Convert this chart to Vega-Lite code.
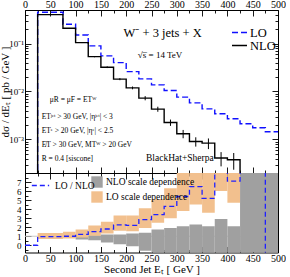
{
  "$schema": "https://vega.github.io/schema/vega-lite/v6.json",
  "background": "white",
  "padding": {"left": -2, "top": -2, "right": 0, "bottom": 0},
  "config": {
    "view": {"stroke": "black", "strokeWidth": 1},
    "axis": {"grid": false, "domain": false, "tickColor": "black", "tickWidth": 0.9, "labelFont": "Liberation Serif", "titleFont": "Liberation Serif", "labelColor": "black", "titleColor": "black", "titleFontWeight": "normal", "labelFontSize": 10, "titleFontSize": 11, "labelFlush": false, "labelOverlap": false},
    "legend": {"labelFont": "Liberation Serif", "labelColor": "black"},
    "text": {"font": "Liberation Serif", "color": "black"}
  },
  "datasets": {
    "spectra": [
      {"et": 0, "xsec": 1e-9, "series": "LO"},
      {"et": 25, "xsec": 0.448, "series": "LO"},
      {"et": 75, "xsec": 0.252, "series": "LO"},
      {"et": 100, "xsec": 0.151, "series": "LO"},
      {"et": 125, "xsec": 0.0892, "series": "LO"},
      {"et": 150, "xsec": 0.0552, "series": "LO"},
      {"et": 175, "xsec": 0.0400, "series": "LO"},
      {"et": 200, "xsec": 0.0260, "series": "LO"},
      {"et": 225, "xsec": 0.0183, "series": "LO"},
      {"et": 250, "xsec": 0.01375, "series": "LO"},
      {"et": 275, "xsec": 0.01046, "series": "LO"},
      {"et": 300, "xsec": 0.00762, "series": "LO"},
      {"et": 325, "xsec": 0.00580, "series": "LO"},
      {"et": 350, "xsec": 0.00435, "series": "LO"},
      {"et": 375, "xsec": 0.00343, "series": "LO"},
      {"et": 400, "xsec": 0.00270, "series": "LO"},
      {"et": 425, "xsec": 0.00212, "series": "LO"},
      {"et": 450, "xsec": 0.00175, "series": "LO"},
      {"et": 475, "xsec": 0.00145, "series": "LO"},
      {"et": 500, "xsec": 0.00145, "series": "LO"},
      {"et": 0, "xsec": 1e-9, "series": "NLO"},
      {"et": 25, "xsec": 0.40, "series": "NLO"},
      {"et": 75, "xsec": 0.208, "series": "NLO"},
      {"et": 100, "xsec": 0.1045, "series": "NLO"},
      {"et": 125, "xsec": 0.0533, "series": "NLO"},
      {"et": 150, "xsec": 0.0321, "series": "NLO"},
      {"et": 175, "xsec": 0.0181, "series": "NLO"},
      {"et": 200, "xsec": 0.0119, "series": "NLO"},
      {"et": 225, "xsec": 0.00728, "series": "NLO"},
      {"et": 250, "xsec": 0.0043, "series": "NLO"},
      {"et": 275, "xsec": 0.00226, "series": "NLO"},
      {"et": 300, "xsec": 0.00132, "series": "NLO"},
      {"et": 325, "xsec": 0.00091, "series": "NLO"},
      {"et": 350, "xsec": 0.00084, "series": "NLO"},
      {"et": 375, "xsec": 0.00041, "series": "NLO"},
      {"et": 400, "xsec": 0.000378, "series": "NLO"},
      {"et": 425, "xsec": 1e-9, "series": "NLO"}
    ],
    "nloerr": [
      {"et": 50, "lo": 0.396, "hi": 0.404},
      {"et": 87.5, "lo": 0.205, "hi": 0.211},
      {"et": 112.5, "lo": 0.1024, "hi": 0.1066},
      {"et": 137.5, "lo": 0.0517, "hi": 0.0549},
      {"et": 162.5, "lo": 0.0308, "hi": 0.0334},
      {"et": 187.5, "lo": 0.0172, "hi": 0.0190},
      {"et": 212.5, "lo": 0.0111, "hi": 0.0127},
      {"et": 237.5, "lo": 0.00655, "hi": 0.00801},
      {"et": 262.5, "lo": 0.00378, "hi": 0.00482},
      {"et": 287.5, "lo": 0.00192, "hi": 0.0026},
      {"et": 312.5, "lo": 0.00106, "hi": 0.00158},
      {"et": 337.5, "lo": 0.00071, "hi": 0.00111},
      {"et": 362.5, "lo": 0.00063, "hi": 0.00105},
      {"et": 387.5, "lo": 0.000275, "hi": 0.000545},
      {"et": 412.5, "lo": 0.000234, "hi": 0.000522}
    ],
    "ratio": [
      {"et": 0, "ratio": 0, "series": "LO / NLO"},
      {"et": 25, "ratio": 0.95, "series": "LO / NLO"},
      {"et": 75, "ratio": 1.0, "series": "LO / NLO"},
      {"et": 100, "ratio": 1.2, "series": "LO / NLO"},
      {"et": 125, "ratio": 1.5, "series": "LO / NLO"},
      {"et": 150, "ratio": 1.8, "series": "LO / NLO"},
      {"et": 175, "ratio": 2.25, "series": "LO / NLO"},
      {"et": 200, "ratio": 2.2, "series": "LO / NLO"},
      {"et": 225, "ratio": 2.85, "series": "LO / NLO"},
      {"et": 250, "ratio": 3.4, "series": "LO / NLO"},
      {"et": 275, "ratio": 4.3, "series": "LO / NLO"},
      {"et": 300, "ratio": 5.4, "series": "LO / NLO"},
      {"et": 325, "ratio": 6.5, "series": "LO / NLO"},
      {"et": 350, "ratio": 5.2, "series": "LO / NLO"},
      {"et": 375, "ratio": 8.5, "series": "LO / NLO"},
      {"et": 400, "ratio": 7.1, "series": "LO / NLO"},
      {"et": 425, "ratio": 50, "series": "LO / NLO"},
      {"et": 475, "ratio": -50, "series": "LO / NLO"},
      {"et": 500, "ratio": -50, "series": "LO / NLO"}
    ],
    "nloband": [
      {"start": 25, "end": 75, "lo": 0.9, "hi": 1.0, "band": "NLO scale dependence"},
      {"start": 75, "end": 100, "lo": 0.85, "hi": 1.05, "band": "NLO scale dependence"},
      {"start": 100, "end": 125, "lo": 0.65, "hi": 1.1, "band": "NLO scale dependence"},
      {"start": 125, "end": 150, "lo": 0.55, "hi": 1.1, "band": "NLO scale dependence"},
      {"start": 150, "end": 175, "lo": 0.3, "hi": 1.2, "band": "NLO scale dependence"},
      {"start": 175, "end": 200, "lo": 0.1, "hi": 1.2, "band": "NLO scale dependence"},
      {"start": 200, "end": 225, "lo": -0.1, "hi": 1.3, "band": "NLO scale dependence"},
      {"start": 225, "end": 250, "lo": -0.6, "hi": 1.4, "band": "NLO scale dependence"},
      {"start": 250, "end": 275, "lo": -1, "hi": 1.75, "band": "NLO scale dependence"},
      {"start": 275, "end": 300, "lo": -1, "hi": 1.9, "band": "NLO scale dependence"},
      {"start": 300, "end": 325, "lo": -1, "hi": 2.1, "band": "NLO scale dependence"},
      {"start": 325, "end": 350, "lo": -1, "hi": 2.3, "band": "NLO scale dependence"},
      {"start": 350, "end": 375, "lo": -1, "hi": 2.1, "band": "NLO scale dependence"},
      {"start": 375, "end": 400, "lo": -1, "hi": 2.9, "band": "NLO scale dependence"},
      {"start": 400, "end": 425, "lo": -1, "hi": 2.1, "band": "NLO scale dependence"},
      {"start": 425, "end": 500, "lo": -1, "hi": 9, "band": "NLO scale dependence"}
    ],
    "loband": [
      {"start": 25, "end": 75, "lo": 0.7, "hi": 1.35, "band": "LO scale dependence"},
      {"start": 75, "end": 100, "lo": 0.75, "hi": 1.5, "band": "LO scale dependence"},
      {"start": 100, "end": 125, "lo": 0.85, "hi": 1.75, "band": "LO scale dependence"},
      {"start": 125, "end": 150, "lo": 1.05, "hi": 2.2, "band": "LO scale dependence"},
      {"start": 150, "end": 175, "lo": 1.3, "hi": 2.6, "band": "LO scale dependence"},
      {"start": 175, "end": 200, "lo": 1.6, "hi": 3.3, "band": "LO scale dependence"},
      {"start": 200, "end": 225, "lo": 1.55, "hi": 3.3, "band": "LO scale dependence"},
      {"start": 225, "end": 250, "lo": 1.9, "hi": 4.1, "band": "LO scale dependence"},
      {"start": 250, "end": 275, "lo": 2.5, "hi": 5.1, "band": "LO scale dependence"},
      {"start": 275, "end": 300, "lo": 3.0, "hi": 6.3, "band": "LO scale dependence"},
      {"start": 300, "end": 325, "lo": 3.8, "hi": 8.2, "band": "LO scale dependence"},
      {"start": 325, "end": 350, "lo": 4.5, "hi": 9.5, "band": "LO scale dependence"},
      {"start": 350, "end": 375, "lo": 3.6, "hi": 8.2, "band": "LO scale dependence"},
      {"start": 375, "end": 400, "lo": 6.0, "hi": 12, "band": "LO scale dependence"},
      {"start": 400, "end": 425, "lo": 4.7, "hi": 10, "band": "LO scale dependence"}
    ]
  },
  "spacing": 0,
  "bounds": "flush",
  "resolve": {"scale": {"color": "independent", "strokeDash": "independent", "fill": "independent"}},
  "vconcat": [
    {
      "width": 253,
      "height": 163,
      "resolve": {"axis": {"x": "independent", "y": "independent"}},
      "layer": [
        {
          "data": {"name": "spectra"},
          "mark": {"type": "line", "interpolate": "step-after", "clip": true, "strokeWidth": 1.4},
          "encoding": {
            "x": {"field": "et", "type": "quantitative", "scale": {"domain": [0, 500], "nice": false, "zero": false},
                  "axis": {"orient": "top", "values": [0, 50, 100, 150, 200, 250, 300, 350, 400, 450, 500], "tickSize": -6, "labelPadding": 7, "title": null}},
            "y": {"field": "xsec", "type": "quantitative", "scale": {"type": "log", "domain": [0.0002, 0.5], "nice": false},
                  "axis": {"orient": "left", "values": [0.001, 0.01, 0.1], "tickSize": -6, "labelPadding": 7.5, "labelFontSize": 9,
                           "labelExpr": "datum.value < 0.005 ? '10⁻³' : (datum.value < 0.05 ? '10⁻²' : '10⁻¹')",
                           "title": "dσ / dEₜ  [ pb / GeV ]", "titlePadding": -1.5}},
            "color": {"field": "series", "type": "nominal", "scale": {"domain": ["LO", "NLO"], "range": ["#1010ff", "#000000"]},
                      "legend": {"title": null, "orient": "none", "legendX": 206, "legendY": 17, "symbolType": "stroke", "symbolSize": 225, "symbolStrokeWidth": 1.5, "labelFontSize": 12.5, "labelOffset": 2, "rowPadding": 0, "clipHeight": 11, "padding": 0}},
            "strokeDash": {"field": "series", "type": "nominal", "scale": {"domain": ["LO", "NLO"], "range": [[6, 3], [1, 0]]},
                      "legend": {"title": null, "orient": "none", "legendX": 206, "legendY": 17, "symbolType": "stroke", "symbolSize": 225, "symbolStrokeWidth": 1.5, "labelFontSize": 12.5, "labelOffset": 2, "rowPadding": 0, "clipHeight": 11, "padding": 0}}
          }
        },
        {
          "data": {"name": "nloerr"},
          "mark": {"type": "rule", "color": "black", "strokeWidth": 1, "clip": true},
          "encoding": {
            "x": {"field": "et", "type": "quantitative", "axis": {"orient": "bottom", "values": [0, 50, 100, 150, 200, 250, 300, 350, 400, 450, 500], "tickSize": -6, "labels": false, "title": null}},
            "y": {"field": "lo", "type": "quantitative", "axis": {"orient": "right", "values": [0.001, 0.01, 0.1], "tickSize": -6, "labels": false, "title": null}},
            "y2": {"field": "hi"}
          }
        },
        {
          "data": {"values": [{"label": "W⁻ + 3 jets + X"}]},
          "mark": {"type": "text", "fontSize": 12.5, "align": "center", "baseline": "middle"},
          "encoding": {
            "x": {"datum": 272, "type": "quantitative", "axis": {"orient": "top", "values": [25, 75, 125, 175, 225, 275, 325, 375, 425, 475], "tickSize": -3, "labels": false, "title": null}},
            "y": {"datum": 0.164, "type": "quantitative", "axis": {"orient": "left", "values": [0.0002, 0.0003, 0.0004, 0.0005, 0.0006, 0.0007, 0.0008, 0.0009, 0.002, 0.003, 0.004, 0.005, 0.006, 0.007, 0.008, 0.009, 0.02, 0.03, 0.04, 0.05, 0.06, 0.07, 0.08, 0.09, 0.2, 0.3, 0.4, 0.5], "tickSize": -3, "labels": false, "title": null}},
            "text": {"field": "label"}
          }
        },
        {
          "data": {"values": [{"label": "√s̅ = 14 TeV"}]},
          "mark": {"type": "text", "fontSize": 9, "align": "center", "baseline": "middle"},
          "encoding": {
            "x": {"datum": 267, "type": "quantitative", "axis": {"orient": "bottom", "values": [25, 75, 125, 175, 225, 275, 325, 375, 425, 475], "tickSize": -3, "labels": false, "title": null}},
            "y": {"datum": 0.058, "type": "quantitative", "axis": {"orient": "right", "values": [0.0002, 0.0003, 0.0004, 0.0005, 0.0006, 0.0007, 0.0008, 0.0009, 0.002, 0.003, 0.004, 0.005, 0.006, 0.007, 0.008, 0.009, 0.02, 0.03, 0.04, 0.05, 0.06, 0.07, 0.08, 0.09, 0.2, 0.3, 0.4, 0.5], "tickSize": -3, "labels": false, "title": null}},
            "text": {"field": "label"}
          }
        },
        {
          "data": {"values": [{"label": "μR = μF = ETᵂ"}]},
          "mark": {"type": "text", "fontSize": 7.5, "align": "left", "baseline": "middle"},
          "encoding": {"x": {"datum": 49, "type": "quantitative", "axis": null}, "y": {"datum": 0.0067, "type": "quantitative", "axis": null}, "text": {"field": "label"}}
        },
        {
          "data": {"values": [{"label": "ETʲᵉᵗ > 30 GeV,  |ηʲᵉᵗ| < 3"}]},
          "mark": {"type": "text", "fontSize": 7.5, "align": "left", "baseline": "middle"},
          "encoding": {"x": {"datum": 33, "type": "quantitative", "axis": null}, "y": {"datum": 0.00297, "type": "quantitative", "axis": null}, "text": {"field": "label"}}
        },
        {
          "data": {"values": [{"label": "ETᵉ > 20 GeV,  |ηᵉ| < 2.5"}]},
          "mark": {"type": "text", "fontSize": 7.5, "align": "left", "baseline": "middle"},
          "encoding": {"x": {"datum": 33, "type": "quantitative", "axis": null}, "y": {"datum": 0.00152, "type": "quantitative", "axis": null}, "text": {"field": "label"}}
        },
        {
          "data": {"values": [{"label": "E̸T > 30 GeV,  MTᵂ > 20 GeV"}]},
          "mark": {"type": "text", "fontSize": 7.5, "align": "left", "baseline": "middle"},
          "encoding": {"x": {"datum": 33, "type": "quantitative", "axis": null}, "y": {"datum": 0.000776, "type": "quantitative", "axis": null}, "text": {"field": "label"}}
        },
        {
          "data": {"values": [{"label": "R  =  0.4   [siscone]"}]},
          "mark": {"type": "text", "fontSize": 7.5, "align": "left", "baseline": "middle"},
          "encoding": {"x": {"datum": 33, "type": "quantitative", "axis": null}, "y": {"datum": 0.000397, "type": "quantitative", "axis": null}, "text": {"field": "label"}}
        },
        {
          "data": {"values": [{"label": "BlackHat+Sherpa"}]},
          "mark": {"type": "text", "fontSize": 9.5, "align": "center", "baseline": "middle"},
          "encoding": {"x": {"datum": 306, "type": "quantitative", "axis": null}, "y": {"datum": 0.00041, "type": "quantitative", "axis": null}, "text": {"field": "label"}}
        }
      ]
    },
    {
      "width": 253,
      "height": 79.5,
      "resolve": {"axis": {"x": "independent", "y": "independent"}},
      "layer": [
        {
          "data": {"values": [{"ratio": 1}]},
          "mark": {"type": "rule", "color": "#c8c8c8", "strokeWidth": 1},
          "encoding": {
            "x": {"datum": 0, "type": "quantitative", "scale": {"domain": [0, 500], "nice": false, "zero": false},
                  "axis": {"orient": "top", "values": [25, 75, 125, 175, 225, 275, 325, 375, 425, 475], "tickSize": -3, "labels": false, "title": null}},
            "x2": {"datum": 500},
            "y": {"field": "ratio", "type": "quantitative", "scale": {"domain": [-0.8, 8], "nice": false, "zero": false},
                  "axis": {"orient": "right", "values": [-0.5, 0.5, 1.5, 2.5, 3.5, 4.5, 5.5, 6.5, 7.5], "tickSize": -3, "labels": false, "title": null}}
          }
        },
        {
          "data": {"name": "nloband"},
          "mark": {"type": "rect", "clip": true},
          "encoding": {
            "x": {"field": "start", "type": "quantitative", "axis": {"orient": "top", "values": [0, 50, 100, 150, 200, 250, 300, 350, 400, 450, 500], "tickSize": -6, "labels": false, "title": null}},
            "x2": {"field": "end"},
            "y": {"field": "lo", "type": "quantitative", "axis": {"orient": "right", "values": [0, 1, 2, 3, 4, 5, 6, 7], "tickSize": -6, "labels": false, "title": null}},
            "y2": {"field": "hi"},
            "fill": {"field": "band", "type": "nominal", "scale": {"domain": ["NLO scale dependence", "LO scale dependence"], "range": ["#a0a0a0", "#f2c08e"]},
                     "legend": {"title": null, "orient": "none", "legendX": 66, "legendY": 3, "symbolType": "square", "symbolSize": 130, "symbolStrokeWidth": 0, "labelFontSize": 9.5, "labelOffset": 3, "rowPadding": 3, "padding": 0}}
          }
        },
        {
          "data": {"name": "loband"},
          "mark": {"type": "rect", "clip": true},
          "encoding": {
            "x": {"field": "start", "type": "quantitative", "axis": {"orient": "bottom", "values": [25, 75, 125, 175, 225, 275, 325, 375, 425, 475], "tickSize": -3, "labels": false, "title": null}},
            "x2": {"field": "end"},
            "y": {"field": "lo", "type": "quantitative", "axis": {"orient": "left", "values": [-0.5, 0.5, 1.5, 2.5, 3.5, 4.5, 5.5, 6.5, 7.5], "tickSize": -3, "labels": false, "title": null}},
            "y2": {"field": "hi"},
            "fill": {"field": "band", "type": "nominal", "scale": {"domain": ["NLO scale dependence", "LO scale dependence"], "range": ["#a0a0a0", "#f2c08e"]},
                     "legend": {"title": null, "orient": "none", "legendX": 66, "legendY": 3, "symbolType": "square", "symbolSize": 130, "symbolStrokeWidth": 0, "labelFontSize": 9.5, "labelOffset": 3, "rowPadding": 3, "padding": 0}}
          }
        },
        {
          "data": {"name": "ratio"},
          "mark": {"type": "line", "interpolate": "step-after", "clip": true, "strokeWidth": 1.3},
          "encoding": {
            "x": {"field": "et", "type": "quantitative", "axis": {"orient": "bottom", "values": [0, 50, 100, 150, 200, 250, 300, 350, 400, 450, 500], "tickSize": -6, "labelPadding": 7, "title": "Second Jet Eₜ  [ GeV ]", "titlePadding": 0}},
            "y": {"field": "ratio", "type": "quantitative", "axis": {"orient": "left", "values": [0, 1, 2, 3, 4, 5, 6, 7], "tickSize": -6, "labelPadding": 10, "labelFontSize": 9, "title": null}},
            "color": {"field": "series", "type": "nominal", "scale": {"domain": ["LO / NLO"], "range": ["#2020ff"]},
                      "legend": {"title": null, "orient": "none", "legendX": 6, "legendY": 3, "symbolType": "stroke", "symbolSize": 300, "symbolStrokeWidth": 1.3, "labelFontSize": 9.5, "labelOffset": 5, "padding": 0}},
            "strokeDash": {"field": "series", "type": "nominal", "scale": {"domain": ["LO / NLO"], "range": [[5, 3]]},
                      "legend": {"title": null, "orient": "none", "legendX": 6, "legendY": 3, "symbolType": "stroke", "symbolSize": 300, "symbolStrokeWidth": 1.3, "labelFontSize": 9.5, "labelOffset": 5, "padding": 0}}
          }
        }
      ]
    }
  ]
}
